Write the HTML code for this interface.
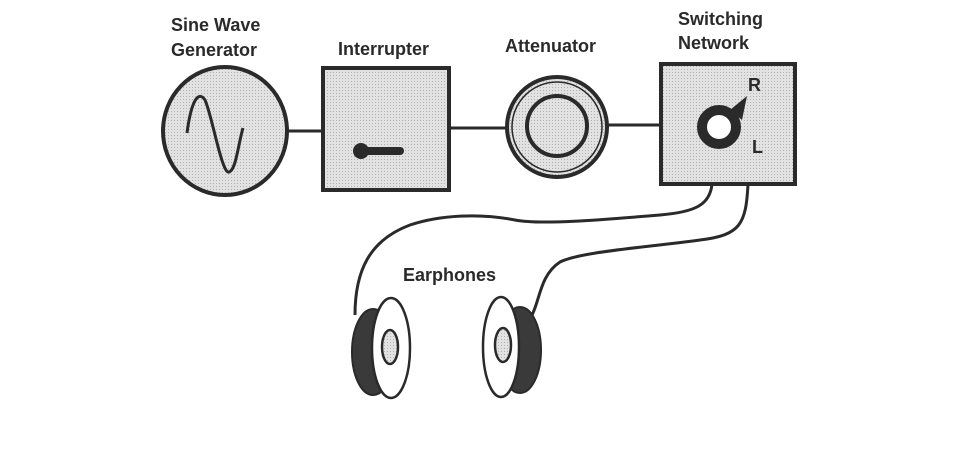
<!DOCTYPE html>
<html><head><meta charset="utf-8"><style>
html,body{margin:0;padding:0;background:#fff;width:960px;height:450px;overflow:hidden}
svg text{font-family:"Liberation Sans",sans-serif;font-weight:bold;font-size:18px;fill:#2a2a2a}
</style></head><body>
<svg width="960" height="450" viewBox="0 0 960 450">
<defs><pattern id="dots" width="3" height="3" patternUnits="userSpaceOnUse"><rect width="3" height="3" fill="#e2e2e2"/><rect width="1" height="1" fill="#b0b0b0"/></pattern></defs>
<g stroke="#2a2a2a" stroke-width="3" fill="none">
<line x1="288" y1="131" x2="322" y2="131"/><line x1="450" y1="128" x2="507" y2="128"/><line x1="608" y1="125" x2="660" y2="125"/>
</g>
<text x="171" y="31">Sine Wave</text>
<text x="171" y="56">Generator</text>
<ellipse cx="225" cy="131" rx="62" ry="64" fill="url(#dots)" stroke="#2a2a2a" stroke-width="4"/>
<path d="M187 133 C192 95,200 92,205 100 C212 115,222 175,229 172 C236 170,238 145,243 128" fill="none" stroke="#2a2a2a" stroke-width="3"/>
<text x="338" y="55">Interrupter</text>
<rect x="323" y="68" width="126" height="122" fill="url(#dots)" stroke="#2a2a2a" stroke-width="4"/>
<g><line x1="360" y1="151" x2="400" y2="151" stroke="#2a2a2a" stroke-width="8" stroke-linecap="round"/><circle cx="361" cy="151" r="8" fill="#2a2a2a"/></g>
<text x="505" y="52">Attenuator</text>
<circle cx="557" cy="127" r="50" fill="url(#dots)" stroke="#2a2a2a" stroke-width="4"/>
<circle cx="557" cy="127" r="45" fill="none" stroke="#2a2a2a" stroke-width="1.5"/>
<circle cx="557" cy="126" r="30" fill="url(#dots)" stroke="#2a2a2a" stroke-width="4"/>
<text x="678" y="25">Switching</text>
<text x="678" y="49">Network</text>
<rect x="661" y="64" width="134" height="120" fill="url(#dots)" stroke="#2a2a2a" stroke-width="4"/>
<g><path d="M730 110 L747 96 L742 120 Z" fill="#2a2a2a"/><circle cx="719" cy="127" r="17" fill="#fff" stroke="#2a2a2a" stroke-width="10"/></g>
<text x="748" y="91">R</text>
<text x="752" y="153">L</text>
<g stroke="#2a2a2a" stroke-width="3" fill="none">
<path d="M712 184 C710 205,695 212,660 215 C600 220,540 225,515 220 C480 213,440 215,410 225 C370 240,355 270,355 315"/>
<path d="M748 184 C746 225,740 235,700 240 C640 248,580 252,560 262 C540 275,540 300,532 315"/>
</g>
<text x="403" y="281">Earphones</text>
<g>
<ellipse cx="373" cy="352" rx="21" ry="43" fill="#3a3a3a" stroke="#2a2a2a" stroke-width="2"/>
<ellipse cx="391" cy="348" rx="19" ry="50" fill="#fff" stroke="#2a2a2a" stroke-width="2.5"/>
<ellipse cx="390" cy="347" rx="8" ry="17" fill="url(#dots)" stroke="#2a2a2a" stroke-width="2.5"/>
</g>
<g>
<ellipse cx="520" cy="350" rx="21" ry="43" fill="#3a3a3a" stroke="#2a2a2a" stroke-width="2"/>
<ellipse cx="501" cy="347" rx="18" ry="50" fill="#fff" stroke="#2a2a2a" stroke-width="2.5"/>
<ellipse cx="503" cy="345" rx="8" ry="17" fill="url(#dots)" stroke="#2a2a2a" stroke-width="2.5"/>
</g>
</svg>
</body></html>
